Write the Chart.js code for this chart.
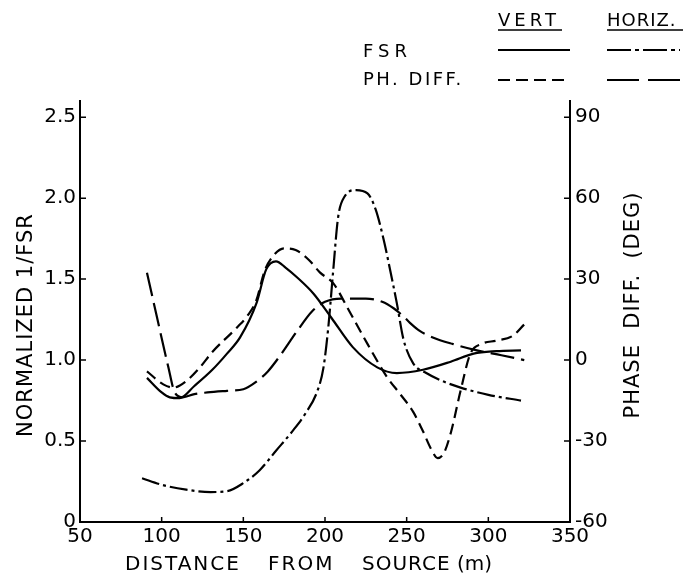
<!DOCTYPE html>
<html><head><meta charset="utf-8">
<script src="https://cdn.jsdelivr.net/npm/chart.js@4/dist/chart.umd.min.js"></script>
<style>html,body{margin:0;padding:0;background:#fff}#wrap{width:689px;height:588px}</style>
</head><body><div id="wrap"><canvas id="c" width="689" height="588"></canvas></div>
<script>
// ---- tick labels ----
const xTicks = [50, 100, 150, 200, 250, 300, 350];
const leftTicks = [0, 0.5, 1.0, 1.5, 2.0, 2.5];
const rightTicks = [-60, -30, 0, 30, 60, 90];

// ---- FSR, vertical (solid), left axis: normalized 1/FSR ----
const fsrVertDist = [91, 100, 105, 111, 120, 131, 140, 148, 158, 164, 170, 176, 183, 193, 204, 217, 232, 244, 260, 277, 291, 305, 320];
const fsrVertVal  = [0.89, 0.80, 0.77, 0.765, 0.84, 0.94, 1.04, 1.14, 1.35, 1.56, 1.61, 1.57, 1.51, 1.41, 1.26, 1.08, 0.955, 0.92, 0.94, 0.99, 1.04, 1.055, 1.06];

// ---- FSR, horizontal (dash-dot), left axis ----
const fsrHorizDist = [88, 100, 115, 130, 140, 150, 160, 170, 180, 188, 195, 199, 202, 205, 208, 212, 219, 226, 231, 236, 240, 244, 248, 254, 262, 272, 283, 300, 320];
const fsrHorizVal  = [0.27, 0.23, 0.20, 0.185, 0.19, 0.24, 0.32, 0.44, 0.56, 0.67, 0.80, 0.95, 1.20, 1.55, 1.88, 2.01, 2.05, 2.03, 1.93, 1.74, 1.55, 1.35, 1.13, 0.98, 0.92, 0.87, 0.83, 0.785, 0.75];

// ---- Phase difference, vertical (short dash), right axis: degrees ----
const phVertDist = [91, 101, 107, 115, 123, 131, 146, 153, 158, 163, 168, 175, 182, 190, 197, 205, 215, 226, 238, 246, 254, 260, 265, 269, 273, 277, 283, 289, 296, 305, 315, 322];
const phVertDeg  = [-4.2, -9, -10.2, -7.8, -3, 3, 12, 16.8, 22.2, 33, 38.4, 41.4, 40.8, 37.2, 32.4, 28.5, 18, 6, -6.3, -12.6, -19.2, -26.4, -33, -36.3, -34.2, -27, -11.4, 2.4, 6, 7.2, 9, 13.2];

// ---- Phase difference, horizontal (long dash), right axis: degrees ----
const phHorizDist = [91, 97, 104, 108, 113, 120, 128, 140, 150, 158, 165, 172, 183, 192, 200, 210, 225, 235, 242, 248, 252, 258, 266, 278, 293, 308, 322];
const phHorizDeg  = [32.4, 16.2, -2.4, -12, -13.8, -12.6, -12, -11.4, -10.8, -8, -4.2, 1.2, 10.8, 18, 21.6, 22.8, 22.8, 21.6, 19.2, 16.2, 13.8, 10.8, 8.4, 6, 3.6, 1.8, 0];

const FONT = '"DejaVu Sans", sans-serif';
const pts = (xs, ys) => xs.map((x, i) => ({x: x, y: ys[i]}));

const STYLE = {
  fsrV: [],
  fsrH: [18, 4, 3, 4],
  phV: [11, 6],
  phH: [24, 7]
};

function lineDs(label, data, axis, dash) {
  return {
    label, data, yAxisID: axis,
    borderColor: '#000', borderWidth: 2.2, borderDash: dash,
    pointRadius: 0, fill: false, cubicInterpolationMode: 'monotone'
  };
}

const decor = {
  id: 'decor',
  afterDraw(chart) {
    const ctx = chart.ctx;
    const xs = chart.scales.x, yl = chart.scales.y, yr = chart.scales.y2;
    ctx.save();
    ctx.strokeStyle = '#000';
    ctx.lineWidth = 1.5;
    // inward ticks
    ctx.beginPath();
    leftTicks.forEach(v => { if (v === 0) return; const y = yl.getPixelForValue(v); ctx.moveTo(xs.left, y); ctx.lineTo(xs.left + 6, y); });
    rightTicks.forEach(v => { if (v === -60) return; const y = yr.getPixelForValue(v); ctx.moveTo(xs.right, y); ctx.lineTo(xs.right - 6, y); });
    xTicks.forEach(v => { if (v === 50 || v === 350) return; const x = xs.getPixelForValue(v); ctx.moveTo(x, yl.bottom); ctx.lineTo(x, yl.bottom - 5); });
    ctx.stroke();

    ctx.fillStyle = '#000';
    ctx.textBaseline = 'alphabetic';
    // x title
    ctx.font = '20px ' + FONT;
    ctx.textAlign = 'left';
    [['DISTANCE', 125, 2], ['FROM', 268, 2], ['SOURCE', 362, 1], ['(m)', 457, 0]].forEach(w => {
      ctx.letterSpacing = w[2] + 'px';
      ctx.fillText(w[0], w[1], 570);
    });
    // left title
    ctx.font = '21px ' + FONT;
    ctx.save();
    ctx.translate(32, 325);
    ctx.rotate(-Math.PI / 2);
    ctx.textAlign = 'center';
    ctx.letterSpacing = '1px';
    ctx.fillText('NORMALIZED 1/FSR', 0, 0);
    ctx.restore();
    // right title
    ctx.save();
    ctx.translate(639, 305);
    ctx.rotate(-Math.PI / 2);
    ctx.textAlign = 'center';
    ctx.letterSpacing = '1px';
    ctx.fillText('PHASE  DIFF.  (DEG)', 0, 0);
    ctx.restore();

    // legend
    ctx.font = '18px ' + FONT;
    ctx.letterSpacing = '4px';
    ctx.fillText('VERT', 498, 26);
    ctx.letterSpacing = '1px';
    ctx.fillText('HORIZ.', 607, 26);
    ctx.lineWidth = 1.5;
    ctx.beginPath();
    ctx.moveTo(498, 30); ctx.lineTo(562, 30);
    ctx.moveTo(607, 30); ctx.lineTo(683, 30);
    ctx.stroke();
    ctx.letterSpacing = '5px';
    ctx.fillText('FSR', 363, 57);
    ctx.letterSpacing = '2.5px';
    ctx.fillText('PH. DIFF.', 363, 85);
    ctx.letterSpacing = '0px';
    const sample = (x1, x2, y, dash) => {
      ctx.beginPath(); ctx.setLineDash(dash); ctx.lineWidth = 2.2;
      ctx.moveTo(x1, y); ctx.lineTo(x2, y); ctx.stroke();
    };
    sample(498, 570, 50, STYLE.fsrV);
    sample(607, 680, 50, [24, 4, 4, 4]);
    sample(498, 570, 80, [12, 6]);
    sample(607, 680, 80, [32, 9]);
    ctx.setLineDash([]);
    ctx.restore();
  }
};

new Chart(document.getElementById('c'), {
  type: 'line',
  data: {
    datasets: [
      lineDs('FSR VERT', pts(fsrVertDist, fsrVertVal), 'y', STYLE.fsrV),
      lineDs('FSR HORIZ.', pts(fsrHorizDist, fsrHorizVal), 'y', STYLE.fsrH),
      lineDs('PH. DIFF. VERT', pts(phVertDist, phVertDeg), 'y2', STYLE.phV),
      lineDs('PH. DIFF. HORIZ.', pts(phHorizDist, phHorizDeg), 'y2', STYLE.phH)
    ]
  },
  options: {
    responsive: false, animation: false, devicePixelRatio: 1,
    layout: {padding: {top: 101, left: 0, right: 0, bottom: 0}},
    plugins: {legend: {display: false}, tooltip: {enabled: false}},
    scales: {
      x: {
        type: 'linear', min: 50, max: 350,
        afterBuildTicks: s => { s.ticks = xTicks.map(v => ({value: v})); },
        afterFit: s => { s.height = 66; },
        grid: {drawOnChartArea: false, drawTicks: false},
        border: {display: true, color: '#000', width: 2},
        ticks: {color: '#000', padding: 3, maxRotation: 0, font: {family: FONT, size: 20}, callback: v => String(v)}
      },
      y: {
        position: 'left', min: 0, max: 2.6,
        afterBuildTicks: s => { s.ticks = leftTicks.map(v => ({value: v})); },
        afterFit: s => { s.width = 80; },
        grid: {drawOnChartArea: false, drawTicks: false},
        border: {display: true, color: '#000', width: 2},
        ticks: {color: '#000', padding: 4, font: {family: FONT, size: 20}, callback: v => v === 0 ? '0' : v.toFixed(1)}
      },
      y2: {
        position: 'right', min: -60, max: 96,
        afterBuildTicks: s => { s.ticks = rightTicks.map(v => ({value: v})); },
        afterFit: s => { s.width = 119; },
        grid: {drawOnChartArea: false, drawTicks: false},
        border: {display: true, color: '#000', width: 2},
        ticks: {color: '#000', padding: 5, font: {family: FONT, size: 20}, callback: v => String(v)}
      }
    }
  },
  plugins: [decor]
});
</script>
</body></html>
